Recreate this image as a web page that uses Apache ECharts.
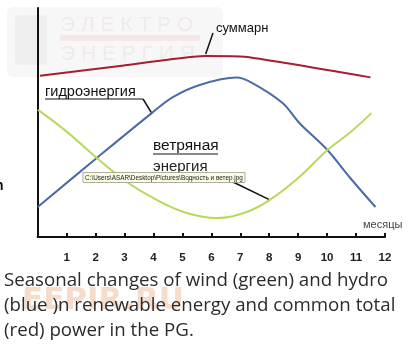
<!DOCTYPE html>
<html><head><meta charset="utf-8">
<script src="https://cdn.jsdelivr.net/npm/echarts@6/dist/echarts.min.js"></script>
<style>html,body{margin:0;padding:0;background:#fff}#c{width:411px;height:344px}</style>
</head><body><div id="c"></div>
<script>
// month positions (0 = origin of axis) and relative power values (0..100)
const monthLabels = ['', '1','2','3','4','5','6','7','8','9','10','11','12'];
const totalPts = [[0.08,70.4],[2.84,74.7],[5.77,79.0],[7.15,78.7],[11.5,69.7]];
const hydroPts = [[0,13.1],[2.04,34.5],[3.94,54.1],[4.67,61.1],[5.6,66.4],[6.87,69.6],[7.42,67.2],[8.46,58.5],[9.04,49.8],[10.01,38.0],[10.77,26.2],[11.67,13.1]];
const windPts = [[0.01,55.5],[1.01,45.9],[2.04,34.5],[3.08,24.0],[4.11,16.2],[5.15,10.5],[6.18,8.3],[7.22,10.9],[8.02,16.2],[9.04,26.2],[10.01,38.0],[10.77,45.4],[11.53,54.1]];
const captionLines = ['Seasonal changes of wind (green) and hydro','(blue )n renewable energy and common total','(red) power in the PG.'];

const chart = echarts.init(document.getElementById('c'), null, {renderer:'canvas'});
chart.setOption({
  animation:false,
  grid:{left:37.7, right:26, top:8, bottom:107, containLabel:false},
  xAxis:{type:'value', min:0, max:12, interval:1,
    axisLine:{show:true, lineStyle:{color:'#111', width:2}},
    axisTick:{show:true, inside:true, length:4, lineStyle:{color:'#111', width:2}},
    splitLine:{show:false},
    axisLabel:{color:'#222', fontWeight:'bold', fontSize:11.5, fontFamily:'Liberation Sans', margin:15,
      formatter:v=>monthLabels[v]||''}},
  yAxis:{type:'value', min:0, max:100,
    axisLine:{show:true, lineStyle:{color:'#111', width:2}},
    axisTick:{show:false}, axisLabel:{show:false}, splitLine:{show:false}},
  series:[
    {type:'line', data:totalPts, smooth:0.15, showSymbol:false, lineStyle:{color:'#a3202e', width:2}, z:3},
    {type:'line', data:hydroPts, smooth:0.35, showSymbol:false, lineStyle:{color:'#4a6aa8', width:2}, z:3},
    {type:'line', data:windPts, smooth:0.4, showSymbol:false, lineStyle:{color:'#b8d85a', width:2}, z:3}
  ]
});

const p = pt => chart.convertToPixel({gridIndex:0}, pt);
const redA = p(totalPts[2]);
const blueA = p(hydroPts[2]);
const greenA = p(windPts[8]);
const txt = (x,y,s,size,color,extra) => ({type:'text', x, y, style:Object.assign({text:s, fill:color, fontSize:size, fontFamily:'Liberation Sans', textVerticalAlign:'middle'}, extra||{})});
const line = (x1,y1,x2,y2,w,c) => ({type:'line', shape:{x1,y1,x2,y2}, style:{stroke:c||'#111', lineWidth:w||1.5}});

const g = [
  // faint watermark top-left
  {type:'rect', shape:{x:7,y:7,width:216,height:70,r:6}, style:{fill:'#f7f7f7'}, z:0},
  {type:'rect', shape:{x:15,y:15,width:32,height:50,r:3}, style:{fill:'#efefef'}, z:0},
  {type:'rect', shape:{x:60,y:35,width:140,height:6}, style:{fill:'#f6e8e8'}, z:0},
  Object.assign(txt(60,25,'Э Л Е К Т Р О',21,'#f0eaea'),{z:0}),
  Object.assign(txt(60,54,'Э Н Е Р Г И Я',21,'#f0eaea'),{z:0}),
  // faint watermark bottom
  Object.assign(txt(22,301,'EEPIR.RU',31,'#f5dccb',{fontWeight:'bold', fontFamily:'DejaVu Sans'}),{z:0}),
  // annotations
  line(redA[0]+1, redA[1]-2, 213, 33, 1.5),
  txt(216,28,'суммарн',13,'#111'),
  txt(45,92,'гидроэнергия',14.5,'#111'),
  line(45,99,143,99,1.2),
  line(143,99,blueA[0],blueA[1],1.5),
  txt(153,146,'ветряная',15.5,'#111'),
  line(153,154,218,154,1.2),
  txt(153,167,'энергия',15,'#222'),
  {type:'rect', shape:{x:83,y:172.5,width:162,height:10}, style:{fill:'#fbfbe6', stroke:'#9a9a88', lineWidth:0.8}, z:10},
  Object.assign(txt(85,178,'C:\\Users\\ASAR\\Desktop\\Pictures\\Водность и ветер.jpg',6.4,'#222'),{z:11}),
  line(233,182,greenA[0],greenA[1],1.5),
  txt(363,225,'месяцы',11,'#444'),
  txt(-5,186,'n',14,'#111',{fontWeight:'bold'})
];
captionLines.forEach((s,i)=>{
  g.push(Object.assign(txt(4,281+i*25,s,18.7,'#2b2b2b',{fontFamily:'Open Sans'}),{z:12}));
});
chart.setOption({graphic:g});
</script></body></html>
